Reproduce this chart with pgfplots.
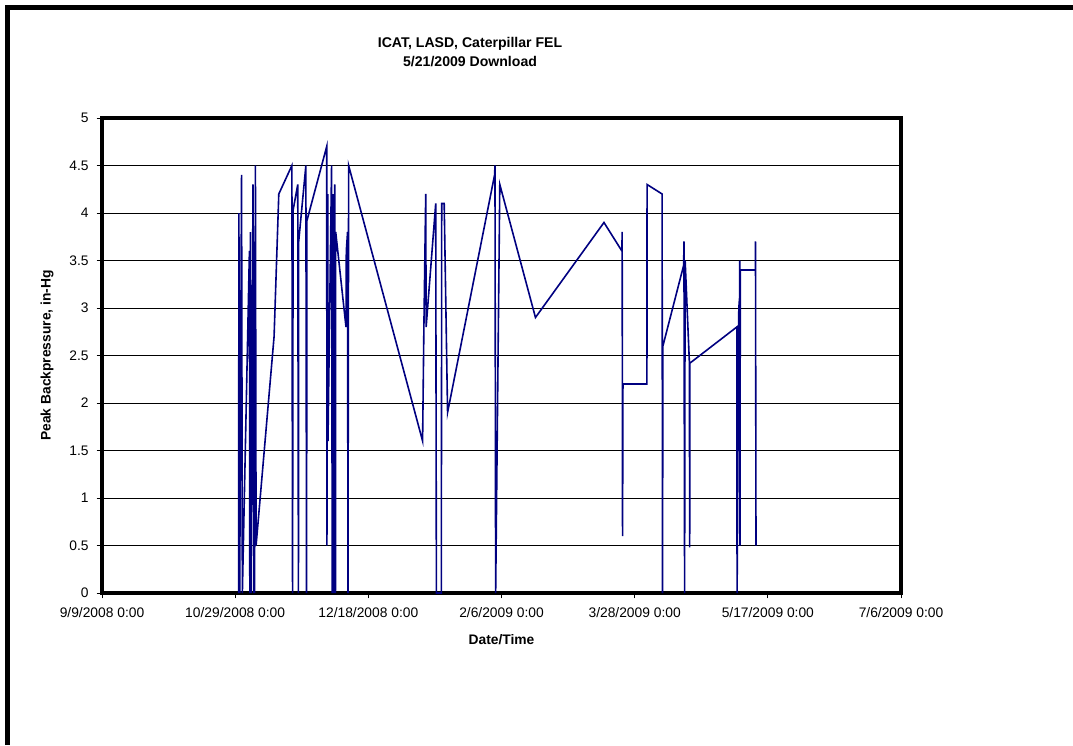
\documentclass[border=0pt]{standalone}
\usepackage{fontspec}
\setmainfont{Liberation Sans}
\usepackage{pgfplots}
\pgfplotsset{compat=1.18}
\definecolor{navyline}{RGB}{0,0,128}

\begin{document}
\begin{tikzpicture}[x=0.75bp,y=0.75bp]
% page = 1073 x 745 px, 1 px = 0.75bp
\path[use as bounding box] (0,0) rectangle (1073,745);
\draw[line width=3.75bp] (7.5,0) -- (7.5,737.5) -- (1073,737.5);
\begin{axis}[
  at={(76.5bp,114bp)}, anchor=south west,
  scale only axis,
  width=599.25bp, height=356.25bp,
  xmin=0, xmax=300, ymin=0, ymax=5,
  xtick={0,50,...,300},
  xticklabels={9/9/2008 0:00,10/29/2008 0:00,12/18/2008 0:00,2/6/2009 0:00,3/28/2009 0:00,5/17/2009 0:00,7/6/2009 0:00},
  ytick={0,0.5,...,5},
  yticklabels={0,0.5,1,1.5,2,2.5,3,3.5,4,4.5,5},
  xtick pos=bottom, ytick pos=left,
  tick align=outside,
  major tick length=4bp,
  tick style={black, line width=0.75bp},
  ymajorgrids,
  grid style={black, line width=0.75bp},
  axis line style={black, line width=2.4bp},
  ticklabel style={font=\fontsize{10.4}{12}\selectfont},
  xticklabel style={yshift=-3.5bp},
  yticklabel style={xshift=-2.5bp},
  /pgf/number format/assume math mode=true,
  title={ICAT, LASD, Caterpillar FEL\\5/21/2009 Download},
  title style={align=center, font=\bfseries\fontsize{10.6}{14}\selectfont, xshift=-23.6bp, yshift=29bp},
  xlabel={Date/Time},
  xlabel style={font=\bfseries\fontsize{10.4}{12}\selectfont, yshift=-6bp},
  ylabel={Peak Backpressure, in-Hg},
  ylabel style={font=\bfseries\fontsize{10.4}{12}\selectfont, yshift=5bp},
]
\addplot[navyline, line width=1.2bp, mark=none] table {
x y
51.30 0
51.40 4.0
51.70 0
52.40 4.4
52.70 0
55.35 3.6
55.50 0
55.70 3.8
55.95 0
56.70 4.3
56.95 0
57.10 3.7
57.30 0
57.60 4.5
57.85 0.5
64.61 2.7
66.38 4.2
71.30 4.5
71.55 0
71.75 4.03
73.50 4.3
73.75 0
73.85 3.7
76.55 4.5
76.80 0
76.95 3.92
84.37 4.7
84.45 0.5
84.75 4.2
84.85 1.6
86.20 4.5
86.45 0
86.70 4.2
86.95 0
87.40 4.3
87.65 0
87.75 3.8
91.61 2.8
91.73 3.6
92.20 3.8
92.35 0
92.60 4.5
120.37 1.6
120.86 2.8
121.55 4.2
121.70 2.8
125.30 4.1
125.55 0
127.40 0
127.55 4.1
128.48 4.1
129.75 1.9
147.40 4.4
147.55 4.5
147.80 0
149.36 4.3
162.75 2.9
188.47 3.9
195.20 3.6
195.30 3.8
195.45 0.6
195.60 2.2
204.60 2.2
204.65 4.3
210.30 4.2
210.45 0
210.60 2.6
218.40 3.45
218.50 3.7
218.75 0
218.85 2.1
218.95 3.5
220.55 2.42
220.65 0.48
220.75 2.42
238.35 2.8
238.45 0
239.10 3.0
239.36 3.1
239.40 1.8
239.44 3.5
239.55 0.5
239.65 3.4
245.30 3.4
245.36 3.7
245.55 0.5
};
\end{axis}
\end{tikzpicture}
\end{document}
